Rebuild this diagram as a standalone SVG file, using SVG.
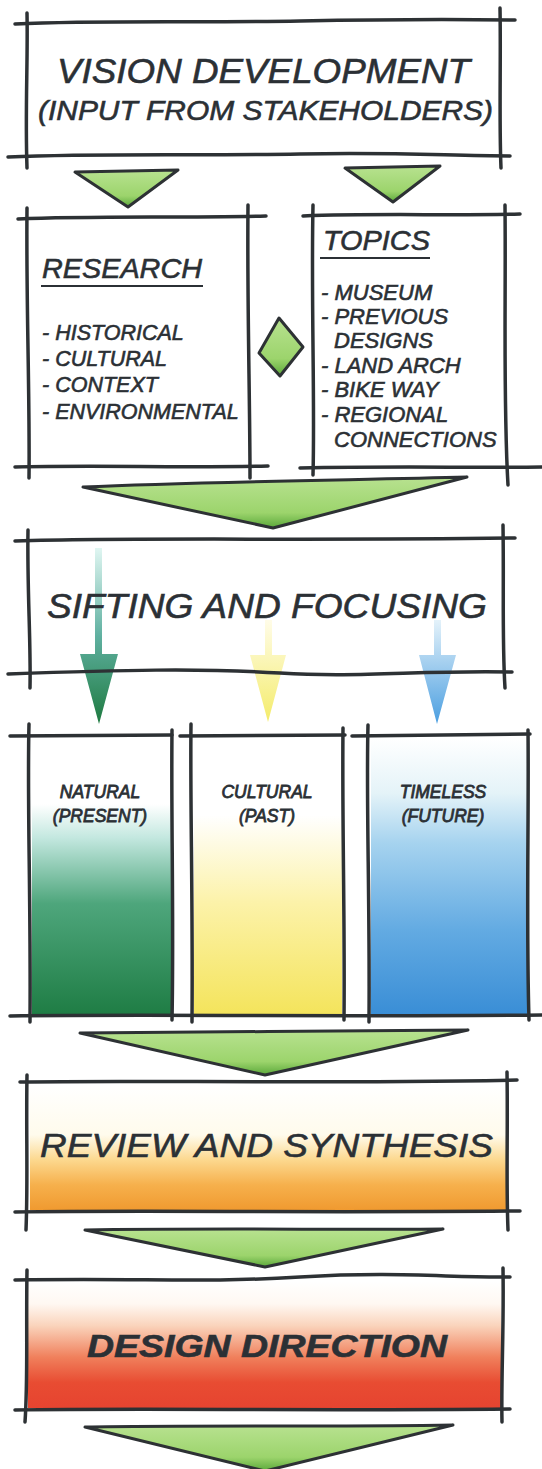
<svg xmlns="http://www.w3.org/2000/svg" width="542" height="1469" viewBox="0 0 542 1469">
<style>
.ln{fill:none;stroke:#2d3134;stroke-width:3.5;stroke-linecap:round;stroke-linejoin:round}
.tri{fill:url(#gtri);stroke:#2d3134;stroke-width:3;stroke-linejoin:round}
.t{font-family:"Liberation Sans",Arial,sans-serif;font-style:italic;fill:#2b3035;stroke:#2b3035;stroke-width:0.6}
.big{font-size:35px}
.head{font-size:28px}
.li{font-size:21.5px}
.col{font-size:17.5px;text-anchor:middle;stroke-width:0.8}
</style>
<defs>
<linearGradient id="gtri" x1="0" y1="0" x2="0" y2="1">
<stop offset="0" stop-color="#b8e290"/><stop offset="0.7" stop-color="#9cd46c"/><stop offset="1" stop-color="#5aa83a"/>
</linearGradient>
<linearGradient id="gc1" x1="0" y1="0" x2="0" y2="1">
<stop offset="0" stop-color="#ffffff"/><stop offset="0.24" stop-color="#ffffff"/><stop offset="0.36" stop-color="#c4e8e0"/><stop offset="0.6" stop-color="#4ea67c"/><stop offset="1" stop-color="#1f7d45"/>
</linearGradient>
<linearGradient id="gc2" x1="0" y1="0" x2="0" y2="1">
<stop offset="0" stop-color="#ffffff"/><stop offset="0.28" stop-color="#ffffff"/><stop offset="0.6" stop-color="#fcf2a8"/><stop offset="1" stop-color="#f4e45c"/>
</linearGradient>
<linearGradient id="gc3" x1="0" y1="0" x2="0" y2="1">
<stop offset="0" stop-color="#ffffff"/><stop offset="0.2" stop-color="#e4f3f8"/><stop offset="0.38" stop-color="#a6d3ef"/><stop offset="0.7" stop-color="#62aae2"/><stop offset="1" stop-color="#3a8ed6"/>
</linearGradient>
<linearGradient id="grev" x1="0" y1="0" x2="0" y2="1">
<stop offset="0" stop-color="#ffffff"/><stop offset="0.4" stop-color="#fffbec"/><stop offset="0.6" stop-color="#fcd88e"/><stop offset="0.8" stop-color="#f6b04c"/><stop offset="1" stop-color="#f09a30"/>
</linearGradient>
<linearGradient id="gdes" x1="0" y1="0" x2="0" y2="1">
<stop offset="0" stop-color="#ffffff"/><stop offset="0.18" stop-color="#fff8f2"/><stop offset="0.35" stop-color="#fad4bc"/><stop offset="0.6" stop-color="#f0805c"/><stop offset="0.8" stop-color="#e84c32"/><stop offset="1" stop-color="#e64430"/>
</linearGradient>
<linearGradient id="ga1" x1="0" y1="0" x2="0" y2="1">
<stop offset="0" stop-color="#e0f6f2"/><stop offset="0.5" stop-color="#5fb0a0"/><stop offset="1" stop-color="#1e7a40"/>
</linearGradient>
<linearGradient id="ga2" x1="0" y1="0" x2="0" y2="1">
<stop offset="0" stop-color="#fffce8"/><stop offset="1" stop-color="#f4ec6a"/>
</linearGradient>
<linearGradient id="ga3" x1="0" y1="0" x2="0" y2="1">
<stop offset="0" stop-color="#e4f2fa"/><stop offset="1" stop-color="#4a9ee0"/>
</linearGradient>
</defs>

<g id="connectors">
<path class="tri" d="M75,172 L178,170 L128,207 Z"/>
<path class="tri" d="M345,168 L440,166 L393,202 Z"/>
<path class="tri" d="M279,318 L303,347 L280,376 L259,353 Z"/>
<path class="tri" d="M83,487 C200,482 350,480 467,477 L273,528 Z"/>
<path d="M95,548 L102,548 L102,654 L118,654 L99,724 L80,654 L95,654 Z" fill="url(#ga1)"/>
<path d="M265,620 L272,620 L272,655 L286,655 L268,722 L250,655 L265,655 Z" fill="url(#ga2)"/>
<path d="M434,620 L441,620 L441,655 L456,655 L437,724 L419,655 L434,655 Z" fill="url(#ga3)"/>
<path class="tri" d="M80,1033 C200,1031 350,1032 468,1030 L265,1075 Z"/>
<path class="tri" d="M85,1230 C200,1228 350,1230 443,1229 L265,1267 Z"/>
<path class="tri" d="M85,1427 C200,1425 350,1427 453,1425 L265,1471 Z"/>
</g>

<g id="vision">
<path class="ln" d="M15,24 C100,20 200,23 300,21 S450,19 515,20"/>
<path class="ln" d="M8,157 C100,153 200,156 300,154 S450,156 510,156"/>
<path class="ln" d="M27,13 C28,60 25,110 27,168"/>
<path class="ln" d="M500,8 C501,60 499,120 501,168"/>
<text class="t big" x="57" y="83" textLength="413" lengthAdjust="spacingAndGlyphs">VISION DEVELOPMENT</text>
<text class="t" x="38" y="120" font-size="28" textLength="455" lengthAdjust="spacingAndGlyphs">(INPUT FROM STAKEHOLDERS)</text>
</g>

<g id="research">
<path class="ln" d="M18,219 C90,216 180,218 266,216"/>
<path class="ln" d="M15,467 C100,465 180,468 268,466"/>
<path class="ln" d="M27,208 C26,300 30,400 29,478"/>
<path class="ln" d="M248,205 C247,300 250,400 250,478"/>
<text class="t head" x="42" y="278" textLength="160" lengthAdjust="spacingAndGlyphs">RESEARCH</text>
<path d="M41,286 L203,286" stroke="#2b3035" stroke-width="2.2"/>
<text class="t li" x="42" y="340">- HISTORICAL</text>
<text class="t li" x="42" y="366">- CULTURAL</text>
<text class="t li" x="42" y="392">- CONTEXT</text>
<text class="t li" x="42" y="419">- ENVIRONMENTAL</text>
</g>

<g id="topics">
<path class="ln" d="M303,216 C380,213 450,216 520,214"/>
<path class="ln" d="M300,468 C400,466 470,468 542,467"/>
<path class="ln" d="M313,205 C311,300 315,400 313,475"/>
<path class="ln" d="M505,205 C506,300 503,400 508,485"/>
<text class="t head" x="323" y="250" textLength="107" lengthAdjust="spacingAndGlyphs">TOPICS</text>
<path d="M320,258 L430,258" stroke="#2b3035" stroke-width="2.2"/>
<text class="t" font-size="22" x="321" y="300">- MUSEUM</text>
<text class="t" font-size="22" x="321" y="324">- PREVIOUS</text>
<text class="t" font-size="22" x="334" y="348">DESIGNS</text>
<text class="t" font-size="22" x="321" y="373">- LAND ARCH</text>
<text class="t" font-size="22" x="321" y="397">- BIKE WAY</text>
<text class="t" font-size="22" x="321" y="422">- REGIONAL</text>
<text class="t" font-size="22" x="334" y="447">CONNECTIONS</text>
</g>

<g id="sifting">
<path class="ln" d="M15,541 C150,537 300,541 515,538"/>
<path class="ln" d="M8,674 C120,670 200,668 280,673 S420,670 512,672"/>
<path class="ln" d="M28,530 C27,590 31,640 30,688"/>
<path class="ln" d="M503,525 C504,590 502,640 505,688"/>
<text class="t" font-size="35" x="47" y="618" textLength="440" lengthAdjust="spacingAndGlyphs">SIFTING AND FOCUSING</text>
</g>

<g id="natural">
<rect x="32" y="738" width="139" height="276" fill="url(#gc1)"/>
<path class="ln" d="M10,736 L172,735"/>
<path class="ln" d="M29,724 C27,800 31,900 30,1022"/>
<path class="ln" d="M172,730 C171,820 174,920 172,1020"/>
<text class="t col" x="100" y="798">NATURAL</text>
<text class="t col" x="100" y="822">(PRESENT)</text>
</g>

<g id="cultural">
<rect x="194" y="738" width="148" height="276" fill="url(#gc2)"/>
<path class="ln" d="M180,736 L345,735"/>
<path class="ln" d="M191,724 C190,800 193,900 192,1022"/>
<path class="ln" d="M343,728 C342,820 345,920 344,1020"/>
<text class="t col" x="267" y="798">CULTURAL</text>
<text class="t col" x="267" y="822">(PAST)</text>
</g>

<g id="timeless">
<rect x="371" y="738" width="156" height="276" fill="url(#gc3)"/>
<path class="ln" d="M352,736 L530,734"/>
<path class="ln" d="M368,725 C366,800 370,900 369,1022"/>
<path class="ln" d="M528,730 C529,820 526,920 529,1020" stroke="#3a4a55"/>
<text class="t col" x="443" y="798">TIMELESS</text>
<text class="t col" x="443" y="822">(FUTURE)</text>
<path class="ln" d="M10,1016 C150,1014 300,1017 542,1015"/>
</g>

<g id="review">
<rect x="30" y="1085" width="476" height="125" fill="url(#grev)"/>
<path class="ln" d="M20,1082 C150,1080 300,1084 517,1080"/>
<path class="ln" d="M15,1212 C150,1210 300,1213 520,1211"/>
<path class="ln" d="M27,1075 C26,1130 28,1180 26,1230"/>
<path class="ln" d="M507,1072 C508,1130 506,1180 508,1230"/>
<text class="t" font-size="34" x="40" y="1157" textLength="453" lengthAdjust="spacingAndGlyphs">REVIEW AND SYNTHESIS</text>
</g>

<g id="design">
<rect x="28" y="1281" width="473" height="127" fill="url(#gdes)"/>
<path class="ln" d="M15,1280 C150,1278 200,1283 300,1277 S450,1278 510,1277"/>
<path class="ln" d="M15,1410 C150,1408 300,1411 510,1409"/>
<path class="ln" d="M27,1270 C26,1330 28,1380 25,1422"/>
<path class="ln" d="M503,1268 C504,1330 501,1380 502,1422"/>
<text class="t" font-size="32" font-weight="bold" x="87" y="1357" textLength="360" lengthAdjust="spacingAndGlyphs" stroke-width="0.3">DESIGN DIRECTION</text>
</g>
</svg>
